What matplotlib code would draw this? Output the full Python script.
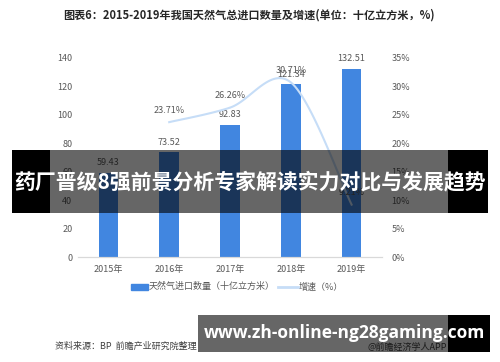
import numpy as np
import matplotlib
matplotlib.use("Agg")
import matplotlib.pyplot as plt
from matplotlib.patches import Rectangle

plt.rcParams['font.family'] = ['Noto Sans CJK SC', 'DejaVu Sans']

# Data #
years = ['2015年', '2016年', '2017年', '2018年', '2019年']
imports = [59.43, 73.52, 92.83, 121.34, 132.51]
growth = [None, 23.71, 26.26, 30.71, 9.21]
left_ticks = [0, 20, 40, 60, 80, 100, 120, 140]
right_ticks = [0, 5, 10, 15, 20, 25, 30, 35]

BAR_COLOR = '#4186E0'
LINE_COLOR = '#C6DDF7'
TXT = '#595959'


def smooth(xs, ys, n=30):
	# Excel-like smoothed line (Catmull-Rom through the points) #
	px = [xs[0]] + list(xs) + [xs[-1]]
	py = [ys[0]] + list(ys) + [ys[-1]]
	ox, oy = [], []
	for i in range(1, len(px) - 2):
		t = np.linspace(0, 1, n)
		for p, o in ((px, ox), (py, oy)):
			p0, p1, p2, p3 = p[i-1], p[i], p[i+1], p[i+2]
			o.extend(0.5 * ((2*p1) + (-p0+p2)*t + (2*p0-5*p1+4*p2-p3)*t**2 + (-p0+3*p1-3*p2+p3)*t**3))
	return np.array(ox), np.array(oy)


def box(x0, x1, y0, y1, alpha=1.0):
	# rectangle given in picture pixels from top-left #
	fig.patches.append(Rectangle((x0/500, 1 - y1/362), (x1 - x0)/500, (y1 - y0)/362,
		transform=fig.transFigure, color='black', alpha=alpha, lw=0, zorder=10))


fig = plt.figure(figsize=(5.0, 3.62), dpi=100)
ax = fig.add_axes([0.156, 0.290, 0.608, 0.550])
ax2 = ax.twinx()

x = np.arange(len(years))
ax.bar(x, imports, width=0.32, color=BAR_COLOR, zorder=2)
for xi, v in zip(x, imports):
	ax.text(xi, v + 4, f'{v:.2f}', ha='center', va='bottom', fontsize=6.5, color=TXT)

ax.set_xlim(-0.5, 4.5)
ax.set_ylim(0, 140)
ax.set_yticks(left_ticks)
ax.set_xticks(x)
ax.set_xticklabels(years)
ax.tick_params(axis='both', length=0, labelsize=6.5, colors=TXT, pad=6)
ax.tick_params(axis='y', pad=4)

gx = [xi for xi, g in zip(x, growth) if g is not None]
gy = [g for g in growth if g is not None]
sx, sy = smooth(gx, gy)
ax2.plot(sx, sy, color=LINE_COLOR, lw=1.5, zorder=3)
for xi, g in zip(gx, gy):
	ax2.text(xi, g + 1.3, f'{g:.2f}%', ha='center', va='bottom', fontsize=6.5, color=TXT)
ax2.set_ylim(0, 35)
ax2.set_yticks(right_ticks)
ax2.set_yticklabels([f'{t}%' for t in right_ticks])
ax2.tick_params(axis='y', length=0, labelsize=6.5, colors=TXT, pad=7)

for a in (ax, ax2):
	for s in ('top', 'left', 'right'):
		a.spines[s].set_visible(False)
	a.spines['bottom'].set_color('#D9D9D9')

# Title and notes #
fig.text(0.497, 0.958, '图表6：2015-2019年我国天然气总进口数量及增速(单位：十亿立方米，%)',
	ha='center', va='center', fontsize=8, fontweight='bold', color='#262626')
fig.text(0.11, 0.043, '资料来源：BP  前瞻产业研究院整理', ha='left', va='center', fontsize=6.5, color='#404040')
fig.text(0.735, 0.040, '@前瞻经济学人APP', ha='left', va='center', fontsize=6.5, color='#404040')

# Legend #
fig.patches.append(Rectangle((0.262, 0.2), 0.034, 0.016, transform=fig.transFigure, color=BAR_COLOR))
fig.text(0.298, 0.208, '天然气进口数量（十亿立方米）', ha='left', va='center', fontsize=6.5, color=TXT)
fig.lines.append(plt.Line2D([0.556, 0.596], [0.208, 0.208], transform=fig.transFigure, color=LINE_COLOR, lw=2))
fig.text(0.598, 0.208, '增速（%）', ha='left', va='center', fontsize=6.5, color=TXT)

# Overlay banners #
box(12, 50, 150, 213)
box(50, 448, 150, 213, alpha=0.6)
box(448, 488, 150, 213)
fig.text(0.5, 1 - 182/362, '药厂晋级8强前景分析专家解读实力对比与发展趋势', ha='center', va='center',
	fontsize=15, fontweight='bold', color='white', zorder=11)

box(198, 448, 315, 352, alpha=0.6)
box(448, 490, 315, 352)
fig.text(344/500, 1 - 333/362, 'www.zh-online-ng28gaming.com', ha='center', va='center',
	fontsize=12.5, fontweight='bold', color='white', family='Open Sans', zorder=11)

plt.savefig('out.png', dpi=100)
